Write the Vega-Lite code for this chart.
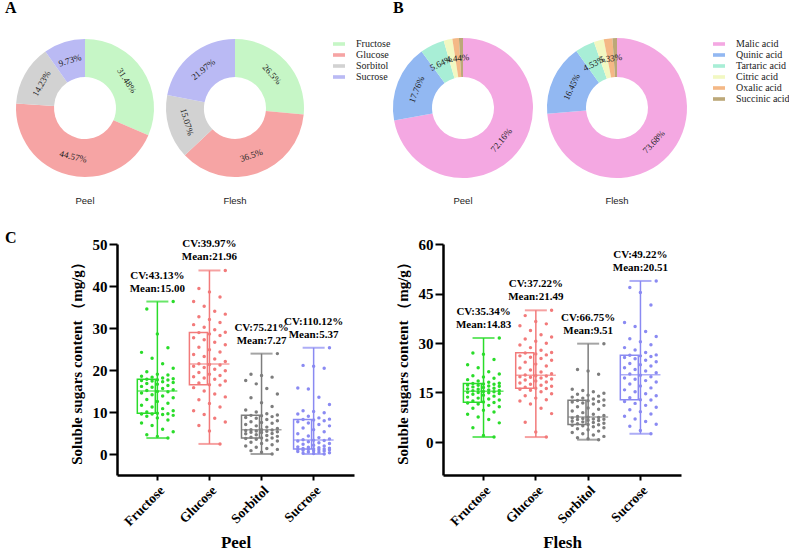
{
"$schema":"https://vega.github.io/schema/vega-lite/v6.json",
"padding":{"left":5,"top":0,"right":0,"bottom":0},
"config":{"view":{"stroke":null},"font":"Liberation Serif",
 "axis":{"domain":true,"zindex":1,"domainColor":"#000000","domainOpacity":1,"domainWidth":2.5,"tickColor":"black","tickWidth":2,"tickSize":8,"labelColor":"black","titleColor":"black","labelFont":"Liberation Serif","labelFontWeight":"bold","titleFont":"Liberation Serif","titleFontWeight":"bold","grid":false},
 "axisX":{"labelAngle":-45,"labelFontSize":13.5,"titleFontSize":17,"titlePadding":6,"labelPadding":3,"tickSize":5},
 "axisY":{"labelFontSize":15,"titleFontSize":15,"titlePadding":8,"labelPadding":2},
 "legend":{"labelFont":"Liberation Serif","labelFontSize":10,"labelColor":"#222","symbolType":"M-1,-0.3H1V0.3H-1Z","symbolSize":144,"symbolStrokeWidth":0,"rowPadding":0,"labelOffset":11,"padding":0}
},
"datasets":{
 "sugar":[
  {"part":"Peel","k":"Fructose","pct":31.48,"lab":"31.48%"},
  {"part":"Peel","k":"Glucose","pct":44.57,"lab":"44.57%"},
  {"part":"Peel","k":"Sorbitol","pct":14.23,"lab":"14.23%"},
  {"part":"Peel","k":"Sucrose","pct":9.73,"lab":"9.73%"},
  {"part":"Flesh","k":"Fructose","pct":26.5,"lab":"26.5%"},
  {"part":"Flesh","k":"Glucose","pct":36.46,"lab":"36.5%"},
  {"part":"Flesh","k":"Sorbitol","pct":15.07,"lab":"15.07%"},
  {"part":"Flesh","k":"Sucrose","pct":21.97,"lab":"21.97%"}
 ],
 "acid":[
  {"part":"Peel","k":"Malic acid","pct":72.16,"lab":"72.16%"},
  {"part":"Peel","k":"Quinic acid","pct":17.76,"lab":"17.76%"},
  {"part":"Peel","k":"Tartaric acid","pct":5.64,"lab":"5.64%"},
  {"part":"Peel","k":"Citric acid","pct":2.0,"lab":""},
  {"part":"Peel","k":"Oxalic acid","pct":1.5,"lab":"4.44%"},
  {"part":"Peel","k":"Succinic acid","pct":0.94,"lab":""},
  {"part":"Flesh","k":"Malic acid","pct":73.68,"lab":"73.68%"},
  {"part":"Flesh","k":"Quinic acid","pct":16.45,"lab":"16.45%"},
  {"part":"Flesh","k":"Tartaric acid","pct":4.53,"lab":"4.53%"},
  {"part":"Flesh","k":"Citric acid","pct":2.3,"lab":""},
  {"part":"Flesh","k":"Oxalic acid","pct":2.0,"lab":"5.33%"},
  {"part":"Flesh","k":"Succinic acid","pct":1.04,"lab":""}
 ],
 "peelStats":[
  {"s":"Fructose","lab":"CV:43.13%\nMean:15.00"},
  {"s":"Glucose","lab":"CV:39.97%\nMean:21.96"},
  {"s":"Sorbitol","lab":"CV:75.21%\nMean:7.27"},
  {"s":"Sucrose","lab":"CV:110.12%\nMean:5.37"}
 ],
 "fleshStats":[
  {"s":"Fructose","lab":"CV:35.34%\nMean:14.83"},
  {"s":"Glucose","lab":"CV:37.22%\nMean:21.49"},
  {"s":"Sorbitol","lab":"CV:66.75%\nMean:9.51"},
  {"s":"Sucrose","lab":"CV:49.22%\nMean:20.51"}
 ],
 "peel":[
  {"s":"Fructose","v":3.8},{"s":"Fructose","v":4.2},{"s":"Fructose","v":4.6},{"s":"Fructose","v":5.3},{"s":"Fructose","v":5.9},{"s":"Fructose","v":6.8},{"s":"Fructose","v":7.4},{"s":"Fructose","v":8.1},{"s":"Fructose","v":8.6},{"s":"Fructose","v":9.0},{"s":"Fructose","v":9.2},{"s":"Fructose","v":9.4},{"s":"Fructose","v":9.5},{"s":"Fructose","v":9.5},{"s":"Fructose","v":9.6},
  {"s":"Fructose","v":9.7},{"s":"Fructose","v":10.0},{"s":"Fructose","v":10.3},{"s":"Fructose","v":10.8},{"s":"Fructose","v":11.2},{"s":"Fructose","v":11.6},{"s":"Fructose","v":12.1},{"s":"Fructose","v":12.5},{"s":"Fructose","v":13.0},{"s":"Fructose","v":13.4},{"s":"Fructose","v":13.8},{"s":"Fructose","v":14.1},{"s":"Fructose","v":14.5},{"s":"Fructose","v":14.8},{"s":"Fructose","v":14.9},
  {"s":"Fructose","v":15.1},{"s":"Fructose","v":15.3},{"s":"Fructose","v":15.6},{"s":"Fructose","v":15.9},{"s":"Fructose","v":16.1},{"s":"Fructose","v":16.3},{"s":"Fructose","v":16.6},{"s":"Fructose","v":16.8},{"s":"Fructose","v":17.0},{"s":"Fructose","v":17.2},{"s":"Fructose","v":17.4},{"s":"Fructose","v":17.5},{"s":"Fructose","v":17.6},{"s":"Fructose","v":17.7},{"s":"Fructose","v":17.8},
  {"s":"Fructose","v":17.9},{"s":"Fructose","v":18.1},{"s":"Fructose","v":18.3},{"s":"Fructose","v":18.5},{"s":"Fructose","v":18.8},{"s":"Fructose","v":19.0},{"s":"Fructose","v":19.6},{"s":"Fructose","v":20.4},{"s":"Fructose","v":21.5},{"s":"Fructose","v":22.8},{"s":"Fructose","v":24.2},{"s":"Fructose","v":25.3},{"s":"Fructose","v":28.6},{"s":"Fructose","v":34.5},{"s":"Fructose","v":36.3},
  {"s":"Glucose","v":2.4},{"s":"Glucose","v":5.5},{"s":"Glucose","v":6.8},{"s":"Glucose","v":7.6},{"s":"Glucose","v":8.5},{"s":"Glucose","v":9.4},{"s":"Glucose","v":10.3},{"s":"Glucose","v":11.2},{"s":"Glucose","v":12.0},{"s":"Glucose","v":12.9},{"s":"Glucose","v":13.6},{"s":"Glucose","v":14.3},{"s":"Glucose","v":15.0},{"s":"Glucose","v":15.8},{"s":"Glucose","v":16.4},
  {"s":"Glucose","v":16.5},{"s":"Glucose","v":16.9},{"s":"Glucose","v":17.4},{"s":"Glucose","v":17.8},{"s":"Glucose","v":18.1},{"s":"Glucose","v":18.4},{"s":"Glucose","v":18.7},{"s":"Glucose","v":19.0},{"s":"Glucose","v":19.4},{"s":"Glucose","v":19.8},{"s":"Glucose","v":20.2},{"s":"Glucose","v":20.6},{"s":"Glucose","v":20.9},{"s":"Glucose","v":21.2},{"s":"Glucose","v":21.3},
  {"s":"Glucose","v":21.5},{"s":"Glucose","v":22.0},{"s":"Glucose","v":22.6},{"s":"Glucose","v":23.2},{"s":"Glucose","v":23.7},{"s":"Glucose","v":24.3},{"s":"Glucose","v":24.8},{"s":"Glucose","v":25.4},{"s":"Glucose","v":26.0},{"s":"Glucose","v":26.6},{"s":"Glucose","v":27.2},{"s":"Glucose","v":27.7},{"s":"Glucose","v":28.2},{"s":"Glucose","v":28.6},{"s":"Glucose","v":28.9},
  {"s":"Glucose","v":29.0},{"s":"Glucose","v":29.6},{"s":"Glucose","v":30.2},{"s":"Glucose","v":30.8},{"s":"Glucose","v":31.3},{"s":"Glucose","v":32.0},{"s":"Glucose","v":32.7},{"s":"Glucose","v":33.3},{"s":"Glucose","v":34.0},{"s":"Glucose","v":35.2},{"s":"Glucose","v":36.3},{"s":"Glucose","v":37.4},{"s":"Glucose","v":38.6},{"s":"Glucose","v":39.4},{"s":"Glucose","v":43.7},
  {"s":"Sorbitol","v":0.0},{"s":"Sorbitol","v":0.4},{"s":"Sorbitol","v":0.8},{"s":"Sorbitol","v":1.1},{"s":"Sorbitol","v":1.3},{"s":"Sorbitol","v":1.6},{"s":"Sorbitol","v":1.9},{"s":"Sorbitol","v":2.2},{"s":"Sorbitol","v":2.5},{"s":"Sorbitol","v":2.8},{"s":"Sorbitol","v":3.1},{"s":"Sorbitol","v":3.3},{"s":"Sorbitol","v":3.5},{"s":"Sorbitol","v":3.7},{"s":"Sorbitol","v":3.8},
  {"s":"Sorbitol","v":3.8},{"s":"Sorbitol","v":4.0},{"s":"Sorbitol","v":4.2},{"s":"Sorbitol","v":4.4},{"s":"Sorbitol","v":4.6},{"s":"Sorbitol","v":4.8},{"s":"Sorbitol","v":4.9},{"s":"Sorbitol","v":5.1},{"s":"Sorbitol","v":5.2},{"s":"Sorbitol","v":5.3},{"s":"Sorbitol","v":5.4},{"s":"Sorbitol","v":5.5},{"s":"Sorbitol","v":5.6},{"s":"Sorbitol","v":5.7},{"s":"Sorbitol","v":5.8},
  {"s":"Sorbitol","v":5.8},{"s":"Sorbitol","v":6.1},{"s":"Sorbitol","v":6.4},{"s":"Sorbitol","v":6.7},{"s":"Sorbitol","v":7.0},{"s":"Sorbitol","v":7.3},{"s":"Sorbitol","v":7.5},{"s":"Sorbitol","v":7.7},{"s":"Sorbitol","v":7.9},{"s":"Sorbitol","v":8.2},{"s":"Sorbitol","v":8.5},{"s":"Sorbitol","v":8.7},{"s":"Sorbitol","v":8.9},{"s":"Sorbitol","v":9.1},{"s":"Sorbitol","v":9.2},
  {"s":"Sorbitol","v":9.3},{"s":"Sorbitol","v":9.6},{"s":"Sorbitol","v":10.0},{"s":"Sorbitol","v":10.5},{"s":"Sorbitol","v":11.3},{"s":"Sorbitol","v":12.2},{"s":"Sorbitol","v":13.4},{"s":"Sorbitol","v":14.3},{"s":"Sorbitol","v":15.6},{"s":"Sorbitol","v":16.7},{"s":"Sorbitol","v":17.5},{"s":"Sorbitol","v":18.3},{"s":"Sorbitol","v":18.7},{"s":"Sorbitol","v":19.0},{"s":"Sorbitol","v":23.9},
  {"s":"Sucrose","v":0.0},{"s":"Sucrose","v":0.1},{"s":"Sucrose","v":0.2},{"s":"Sucrose","v":0.3},{"s":"Sucrose","v":0.4},{"s":"Sucrose","v":0.5},{"s":"Sucrose","v":0.6},{"s":"Sucrose","v":0.7},{"s":"Sucrose","v":0.8},{"s":"Sucrose","v":0.9},{"s":"Sucrose","v":1.0},{"s":"Sucrose","v":1.0},{"s":"Sucrose","v":1.1},{"s":"Sucrose","v":1.1},{"s":"Sucrose","v":1.2},
  {"s":"Sucrose","v":1.2},{"s":"Sucrose","v":1.3},{"s":"Sucrose","v":1.4},{"s":"Sucrose","v":1.5},{"s":"Sucrose","v":1.6},{"s":"Sucrose","v":1.7},{"s":"Sucrose","v":1.9},{"s":"Sucrose","v":2.1},{"s":"Sucrose","v":2.3},{"s":"Sucrose","v":2.5},{"s":"Sucrose","v":2.7},{"s":"Sucrose","v":2.9},{"s":"Sucrose","v":3.1},{"s":"Sucrose","v":3.2},{"s":"Sucrose","v":3.3},
  {"s":"Sucrose","v":3.4},{"s":"Sucrose","v":3.6},{"s":"Sucrose","v":3.9},{"s":"Sucrose","v":4.3},{"s":"Sucrose","v":4.8},{"s":"Sucrose","v":5.3},{"s":"Sucrose","v":5.8},{"s":"Sucrose","v":6.2},{"s":"Sucrose","v":6.7},{"s":"Sucrose","v":7.0},{"s":"Sucrose","v":7.4},{"s":"Sucrose","v":7.7},{"s":"Sucrose","v":7.9},{"s":"Sucrose","v":8.1},{"s":"Sucrose","v":8.2},
  {"s":"Sucrose","v":8.3},{"s":"Sucrose","v":8.6},{"s":"Sucrose","v":9.0},{"s":"Sucrose","v":9.5},{"s":"Sucrose","v":9.8},{"s":"Sucrose","v":10.1},{"s":"Sucrose","v":10.3},{"s":"Sucrose","v":11.8},{"s":"Sucrose","v":13.5},{"s":"Sucrose","v":15.5},{"s":"Sucrose","v":15.7},{"s":"Sucrose","v":20.4},{"s":"Sucrose","v":20.9},{"s":"Sucrose","v":21.1},{"s":"Sucrose","v":25.3}
 ],
 "flesh":[
  {"s":"Fructose","v":1.5},{"s":"Fructose","v":2.0},{"s":"Fructose","v":4.3},{"s":"Fructose","v":5.8},{"s":"Fructose","v":6.8},{"s":"Fructose","v":7.6},{"s":"Fructose","v":8.4},{"s":"Fructose","v":9.1},{"s":"Fructose","v":9.6},{"s":"Fructose","v":10.2},{"s":"Fructose","v":10.7},{"s":"Fructose","v":11.1},{"s":"Fructose","v":11.5},{"s":"Fructose","v":11.8},{"s":"Fructose","v":12.0},
  {"s":"Fructose","v":12.1},{"s":"Fructose","v":12.4},{"s":"Fructose","v":12.7},{"s":"Fructose","v":13.0},{"s":"Fructose","v":13.3},{"s":"Fructose","v":13.6},{"s":"Fructose","v":13.9},{"s":"Fructose","v":14.2},{"s":"Fructose","v":14.5},{"s":"Fructose","v":14.7},{"s":"Fructose","v":14.9},{"s":"Fructose","v":15.0},{"s":"Fructose","v":15.1},{"s":"Fructose","v":15.2},{"s":"Fructose","v":15.3},
  {"s":"Fructose","v":15.5},{"s":"Fructose","v":15.6},{"s":"Fructose","v":15.8},{"s":"Fructose","v":16.0},{"s":"Fructose","v":16.1},{"s":"Fructose","v":16.3},{"s":"Fructose","v":16.5},{"s":"Fructose","v":16.7},{"s":"Fructose","v":16.9},{"s":"Fructose","v":17.0},{"s":"Fructose","v":17.2},{"s":"Fructose","v":17.3},{"s":"Fructose","v":17.5},{"s":"Fructose","v":17.6},{"s":"Fructose","v":17.7},
  {"s":"Fructose","v":17.8},{"s":"Fructose","v":18.1},{"s":"Fructose","v":18.5},{"s":"Fructose","v":18.9},{"s":"Fructose","v":19.3},{"s":"Fructose","v":19.7},{"s":"Fructose","v":20.1},{"s":"Fructose","v":20.6},{"s":"Fructose","v":21.3},{"s":"Fructose","v":22.5},{"s":"Fructose","v":23.4},{"s":"Fructose","v":25.0},{"s":"Fructose","v":26.6},{"s":"Fructose","v":27.0},{"s":"Fructose","v":31.5},
  {"s":"Glucose","v":1.5},{"s":"Glucose","v":3.0},{"s":"Glucose","v":6.0},{"s":"Glucose","v":8.6},{"s":"Glucose","v":10.2},{"s":"Glucose","v":11.5},{"s":"Glucose","v":12.4},{"s":"Glucose","v":12.8},{"s":"Glucose","v":13.3},{"s":"Glucose","v":14.0},{"s":"Glucose","v":14.6},{"s":"Glucose","v":15.2},{"s":"Glucose","v":15.7},{"s":"Glucose","v":16.0},{"s":"Glucose","v":16.2},
  {"s":"Glucose","v":16.3},{"s":"Glucose","v":16.6},{"s":"Glucose","v":16.9},{"s":"Glucose","v":17.2},{"s":"Glucose","v":17.5},{"s":"Glucose","v":17.9},{"s":"Glucose","v":18.2},{"s":"Glucose","v":18.5},{"s":"Glucose","v":18.8},{"s":"Glucose","v":19.1},{"s":"Glucose","v":19.4},{"s":"Glucose","v":19.6},{"s":"Glucose","v":19.8},{"s":"Glucose","v":20.0},{"s":"Glucose","v":20.1},
  {"s":"Glucose","v":20.3},{"s":"Glucose","v":20.7},{"s":"Glucose","v":21.2},{"s":"Glucose","v":21.8},{"s":"Glucose","v":22.4},{"s":"Glucose","v":23.0},{"s":"Glucose","v":23.6},{"s":"Glucose","v":24.2},{"s":"Glucose","v":24.8},{"s":"Glucose","v":25.3},{"s":"Glucose","v":25.7},{"s":"Glucose","v":26.1},{"s":"Glucose","v":26.4},{"s":"Glucose","v":26.7},{"s":"Glucose","v":27.0},
  {"s":"Glucose","v":27.1},{"s":"Glucose","v":27.8},{"s":"Glucose","v":28.6},{"s":"Glucose","v":29.4},{"s":"Glucose","v":29.9},{"s":"Glucose","v":30.5},{"s":"Glucose","v":31.2},{"s":"Glucose","v":31.8},{"s":"Glucose","v":32.5},{"s":"Glucose","v":33.8},{"s":"Glucose","v":35.2},{"s":"Glucose","v":35.8},{"s":"Glucose","v":36.5},{"s":"Glucose","v":38.3},{"s":"Glucose","v":39.9},
  {"s":"Sorbitol","v":0.7},{"s":"Sorbitol","v":1.0},{"s":"Sorbitol","v":1.3},{"s":"Sorbitol","v":1.7},{"s":"Sorbitol","v":2.1},{"s":"Sorbitol","v":2.5},{"s":"Sorbitol","v":2.9},{"s":"Sorbitol","v":3.3},{"s":"Sorbitol","v":3.7},{"s":"Sorbitol","v":4.0},{"s":"Sorbitol","v":4.3},{"s":"Sorbitol","v":4.6},{"s":"Sorbitol","v":4.9},{"s":"Sorbitol","v":5.1},{"s":"Sorbitol","v":5.2},
  {"s":"Sorbitol","v":5.3},{"s":"Sorbitol","v":5.5},{"s":"Sorbitol","v":5.7},{"s":"Sorbitol","v":5.9},{"s":"Sorbitol","v":6.1},{"s":"Sorbitol","v":6.3},{"s":"Sorbitol","v":6.5},{"s":"Sorbitol","v":6.6},{"s":"Sorbitol","v":6.8},{"s":"Sorbitol","v":6.9},{"s":"Sorbitol","v":7.0},{"s":"Sorbitol","v":7.1},{"s":"Sorbitol","v":7.3},{"s":"Sorbitol","v":7.4},{"s":"Sorbitol","v":7.5},
  {"s":"Sorbitol","v":7.7},{"s":"Sorbitol","v":8.0},{"s":"Sorbitol","v":8.4},{"s":"Sorbitol","v":8.9},{"s":"Sorbitol","v":9.4},{"s":"Sorbitol","v":9.9},{"s":"Sorbitol","v":10.3},{"s":"Sorbitol","v":10.7},{"s":"Sorbitol","v":11.1},{"s":"Sorbitol","v":11.5},{"s":"Sorbitol","v":11.8},{"s":"Sorbitol","v":12.1},{"s":"Sorbitol","v":12.3},{"s":"Sorbitol","v":12.5},{"s":"Sorbitol","v":12.6},
  {"s":"Sorbitol","v":12.7},{"s":"Sorbitol","v":13.0},{"s":"Sorbitol","v":13.3},{"s":"Sorbitol","v":13.6},{"s":"Sorbitol","v":13.9},{"s":"Sorbitol","v":14.2},{"s":"Sorbitol","v":14.5},{"s":"Sorbitol","v":14.8},{"s":"Sorbitol","v":15.2},{"s":"Sorbitol","v":15.6},{"s":"Sorbitol","v":16.0},{"s":"Sorbitol","v":20.5},{"s":"Sorbitol","v":21.5},{"s":"Sorbitol","v":22.0},{"s":"Sorbitol","v":29.8},
  {"s":"Sucrose","v":2.5},{"s":"Sucrose","v":3.5},{"s":"Sucrose","v":4.8},{"s":"Sucrose","v":5.4},{"s":"Sucrose","v":6.2},{"s":"Sucrose","v":7.0},{"s":"Sucrose","v":7.8},{"s":"Sucrose","v":8.5},{"s":"Sucrose","v":9.2},{"s":"Sucrose","v":9.8},{"s":"Sucrose","v":10.5},{"s":"Sucrose","v":11.1},{"s":"Sucrose","v":11.7},{"s":"Sucrose","v":12.3},{"s":"Sucrose","v":12.7},
  {"s":"Sucrose","v":12.8},{"s":"Sucrose","v":13.4},{"s":"Sucrose","v":14.0},{"s":"Sucrose","v":14.6},{"s":"Sucrose","v":15.2},{"s":"Sucrose","v":15.8},{"s":"Sucrose","v":16.4},{"s":"Sucrose","v":17.0},{"s":"Sucrose","v":17.6},{"s":"Sucrose","v":18.2},{"s":"Sucrose","v":18.6},{"s":"Sucrose","v":19.0},{"s":"Sucrose","v":19.4},{"s":"Sucrose","v":19.8},{"s":"Sucrose","v":20.2},
  {"s":"Sucrose","v":20.6},{"s":"Sucrose","v":21.0},{"s":"Sucrose","v":21.5},{"s":"Sucrose","v":22.0},{"s":"Sucrose","v":22.5},{"s":"Sucrose","v":23.0},{"s":"Sucrose","v":23.4},{"s":"Sucrose","v":23.8},{"s":"Sucrose","v":24.3},{"s":"Sucrose","v":24.8},{"s":"Sucrose","v":25.2},{"s":"Sucrose","v":25.6},{"s":"Sucrose","v":25.9},{"s":"Sucrose","v":26.1},{"s":"Sucrose","v":26.3},
  {"s":"Sucrose","v":26.4},{"s":"Sucrose","v":27.1},{"s":"Sucrose","v":27.9},{"s":"Sucrose","v":28.6},{"s":"Sucrose","v":29.5},{"s":"Sucrose","v":30.4},{"s":"Sucrose","v":31.3},{"s":"Sucrose","v":32.0},{"s":"Sucrose","v":33.5},{"s":"Sucrose","v":35.0},{"s":"Sucrose","v":36.2},{"s":"Sucrose","v":41.5},{"s":"Sucrose","v":45.3},{"s":"Sucrose","v":46.8},{"s":"Sucrose","v":48.8}
 ]
},
"resolve":{"scale":{"color":"independent"}},
"spacing":24,
"vconcat":[
 {"hconcat":[
  {"title":{"text":"A","anchor":"start","font":"Liberation Serif","fontSize":16,"fontWeight":"bold","offset":22,"color":"black"},
   "spacing":0,
   "hconcat":[
    {"width":160,"height":140,
     "title":{"text":"Peel","orient":"bottom","font":"Liberation Sans","fontSize":9.5,"fontWeight":"normal","offset":18,"color":"#222"},
     "data":{"name":"sugar"},
     "transform":[{"filter":"datum.part === 'Peel'"},{"calculate":"indexof(['Fructose','Glucose','Sorbitol','Sucrose'], datum.k)","as":"idx"}],
     "layer":[
      {"mark":{"type":"arc","innerRadius":31,"outerRadius":69},
       "encoding":{"theta":{"field":"pct","type":"quantitative","stack":true},"order":{"field":"idx","type":"quantitative"},
        "color":{"field":"k","type":"nominal","scale":{"domain":["Fructose","Glucose","Sorbitol","Sucrose"],"range":["#c6f6c6","#f6a4a4","#d2d2d2","#babaf4"]},"legend":{"title":null,"offset":28,"labelFont":"Liberation Serif"}}}},
      {"transform":[{"joinaggregate":[{"op":"sum","field":"pct","as":"tot"}]},{"window":[{"op":"sum","field":"pct","as":"cum"}],"sort":[{"field":"idx"}],"frame":[null,0]},{"calculate":"(datum.cum - datum.pct/2)/datum.tot*360","as":"mid"},{"calculate":"datum.mid > 90 && datum.mid < 270 ? datum.mid - 180 : datum.mid","as":"ang"}],
       "mark":{"type":"text","radius":50,"fontSize":9,"font":"Liberation Serif","color":"#222"},
       "encoding":{"theta":{"field":"pct","type":"quantitative","stack":true},"order":{"field":"idx","type":"quantitative"},"text":{"field":"lab","type":"nominal"},"angle":{"field":"ang","type":"quantitative","scale":null}}}
     ]},
    {"width":140,"height":140,
     "title":{"text":"Flesh","orient":"bottom","font":"Liberation Sans","fontSize":9.5,"fontWeight":"normal","offset":18,"color":"#222"},
     "data":{"name":"sugar"},
     "transform":[{"filter":"datum.part === 'Flesh'"},{"calculate":"indexof(['Fructose','Glucose','Sorbitol','Sucrose'], datum.k)","as":"idx"}],
     "layer":[
      {"mark":{"type":"arc","innerRadius":31,"outerRadius":69},
       "encoding":{"theta":{"field":"pct","type":"quantitative","stack":true},"order":{"field":"idx","type":"quantitative"},
        "color":{"field":"k","type":"nominal","scale":{"domain":["Fructose","Glucose","Sorbitol","Sucrose"],"range":["#c6f6c6","#f6a4a4","#d2d2d2","#babaf4"]},"legend":{"title":null,"offset":28,"labelFont":"Liberation Serif"}}}},
      {"transform":[{"joinaggregate":[{"op":"sum","field":"pct","as":"tot"}]},{"window":[{"op":"sum","field":"pct","as":"cum"}],"sort":[{"field":"idx"}],"frame":[null,0]},{"calculate":"(datum.cum - datum.pct/2)/datum.tot*360","as":"mid"},{"calculate":"datum.mid > 90 && datum.mid < 270 ? datum.mid - 180 : datum.mid","as":"ang"}],
       "mark":{"type":"text","radius":50,"fontSize":9,"font":"Liberation Serif","color":"#222"},
       "encoding":{"theta":{"field":"pct","type":"quantitative","stack":true},"order":{"field":"idx","type":"quantitative"},"text":{"field":"lab","type":"nominal"},"angle":{"field":"ang","type":"quantitative","scale":null}}}
     ]}
   ]},
  {"title":{"text":"B","anchor":"start","font":"Liberation Serif","fontSize":16,"fontWeight":"bold","offset":22,"color":"black"},
   "spacing":14,
   "hconcat":[
    {"width":134,"height":140,
     "title":{"text":"Peel","orient":"bottom","font":"Liberation Sans","fontSize":9.5,"fontWeight":"normal","offset":18,"color":"#222"},
     "data":{"name":"acid"},
     "transform":[{"filter":"datum.part === 'Peel'"},{"calculate":"indexof(['Malic acid','Quinic acid','Tartaric acid','Citric acid','Oxalic acid','Succinic acid'], datum.k)","as":"idx"}],
     "layer":[
      {"mark":{"type":"arc","innerRadius":31,"outerRadius":70},
       "encoding":{"theta":{"field":"pct","type":"quantitative","stack":true},"order":{"field":"idx","type":"quantitative"},
        "color":{"field":"k","type":"nominal","scale":{"domain":["Malic acid","Quinic acid","Tartaric acid","Citric acid","Oxalic acid","Succinic acid"],"range":["#f4a8e2","#92b8f2","#a8eed6","#f2f8c2","#f4b886","#bca878"]},"legend":{"title":null,"offset":26,"labelFont":"Liberation Serif"}}}},
      {"transform":[{"joinaggregate":[{"op":"sum","field":"pct","as":"tot"}]},{"window":[{"op":"sum","field":"pct","as":"cum"}],"sort":[{"field":"idx"}],"frame":[null,0]},{"calculate":"(datum.cum - datum.pct/2)/datum.tot*360","as":"mid"},{"calculate":"datum.mid > 90 && datum.mid < 270 ? datum.mid - 180 : datum.mid","as":"ang"}],
       "mark":{"type":"text","radius":50,"fontSize":9,"font":"Liberation Serif","color":"#222"},
       "encoding":{"theta":{"field":"pct","type":"quantitative","stack":true},"order":{"field":"idx","type":"quantitative"},"text":{"field":"lab","type":"nominal"},"angle":{"field":"ang","type":"quantitative","scale":null}}}
     ]},
    {"width":140,"height":140,
     "title":{"text":"Flesh","orient":"bottom","font":"Liberation Sans","fontSize":9.5,"fontWeight":"normal","offset":18,"color":"#222"},
     "data":{"name":"acid"},
     "transform":[{"filter":"datum.part === 'Flesh'"},{"calculate":"indexof(['Malic acid','Quinic acid','Tartaric acid','Citric acid','Oxalic acid','Succinic acid'], datum.k)","as":"idx"}],
     "layer":[
      {"mark":{"type":"arc","innerRadius":31,"outerRadius":70},
       "encoding":{"theta":{"field":"pct","type":"quantitative","stack":true},"order":{"field":"idx","type":"quantitative"},
        "color":{"field":"k","type":"nominal","scale":{"domain":["Malic acid","Quinic acid","Tartaric acid","Citric acid","Oxalic acid","Succinic acid"],"range":["#f4a8e2","#92b8f2","#a8eed6","#f2f8c2","#f4b886","#bca878"]},"legend":{"title":null,"offset":26,"labelFont":"Liberation Serif"}}}},
      {"transform":[{"joinaggregate":[{"op":"sum","field":"pct","as":"tot"}]},{"window":[{"op":"sum","field":"pct","as":"cum"}],"sort":[{"field":"idx"}],"frame":[null,0]},{"calculate":"(datum.cum - datum.pct/2)/datum.tot*360","as":"mid"},{"calculate":"datum.mid > 90 && datum.mid < 270 ? datum.mid - 180 : datum.mid","as":"ang"}],
       "mark":{"type":"text","radius":50,"fontSize":9,"font":"Liberation Serif","color":"#222"},
       "encoding":{"theta":{"field":"pct","type":"quantitative","stack":true},"order":{"field":"idx","type":"quantitative"},"text":{"field":"lab","type":"nominal"},"angle":{"field":"ang","type":"quantitative","scale":null}}}
     ]}
   ]}
 ],
 "spacing":2,
 "resolve":{"scale":{"color":"independent"}}},
 {"spacing":41,
  "hconcat":[
   {"width":23,"height":231,
    "title":{"text":"C","anchor":"start","offset":-2,"font":"Liberation Serif","fontSize":16,"fontWeight":"bold","color":"black"},
    "data":{"values":[]},
    "mark":"point"},
   {"width":237,"height":231,
    "data":{"name":"peel"},
    "layer":[
     {"transform":[{"aggregate":[{"op":"min","field":"v","as":"lo"},{"op":"q1","field":"v","as":"q1"},{"op":"median","field":"v","as":"md"},{"op":"q3","field":"v","as":"q3"},{"op":"max","field":"v","as":"hi"}],"groupby":["s"]}],
      "layer":[
       {"mark":{"type":"rule","strokeWidth":1.5},
        "encoding":{"x":{"field":"s","type":"nominal","title":"Peel","sort":["Fructose","Glucose","Sorbitol","Sucrose"],"scale":{"paddingInner":0.23,"paddingOuter":0.39}},
         "y":{"field":"lo","type":"quantitative","title":"Soluble sugars content （mg/g）","scale":{"domain":[-5,50],"nice":false,"zero":false},"axis":{"values":[0,10,20,30,40,50]}},
         "y2":{"field":"hi"},
         "color":{"field":"s","type":"nominal","scale":{"domain":["Fructose","Glucose","Sorbitol","Sucrose"],"range":["#2adc2a","#f27a7a","#7d7d7d","#8a8af2"]},"legend":null}}},
       {"mark":{"type":"bar","filled":false,"strokeWidth":1.5},
        "encoding":{"x":{"field":"s","type":"nominal","title":"Peel","sort":["Fructose","Glucose","Sorbitol","Sucrose"]},
         "y":{"field":"q1","type":"quantitative","title":"Soluble sugars content （mg/g）"},"y2":{"field":"q3"},
         "color":{"field":"s","type":"nominal","legend":null}}},
       {"mark":{"type":"tick","size":40,"thickness":1.5},
        "encoding":{"x":{"field":"s","type":"nominal","title":"Peel","sort":["Fructose","Glucose","Sorbitol","Sucrose"]},
         "y":{"field":"md","type":"quantitative","title":"Soluble sugars content （mg/g）"},
         "color":{"field":"s","type":"nominal","legend":null}}},
       {"mark":{"type":"tick","size":22,"thickness":2},
        "encoding":{"x":{"field":"s","type":"nominal","title":"Peel","sort":["Fructose","Glucose","Sorbitol","Sucrose"]},
         "y":{"field":"lo","type":"quantitative","title":"Soluble sugars content （mg/g）"},
         "color":{"field":"s","type":"nominal","legend":null}}},
       {"mark":{"type":"tick","size":22,"thickness":2},
        "encoding":{"x":{"field":"s","type":"nominal","title":"Peel","sort":["Fructose","Glucose","Sorbitol","Sucrose"]},
         "y":{"field":"hi","type":"quantitative","title":"Soluble sugars content （mg/g）"},
         "color":{"field":"s","type":"nominal","legend":null}}}
      ]},
     {"transform":[{"window":[{"op":"row_number","as":"r"}],"groupby":["s"],"sort":[{"field":"v"}]},{"calculate":"((datum.r*5)%7)-3","as":"j"}],
      "mark":{"type":"circle","size":12,"opacity":1},
      "encoding":{"x":{"field":"s","type":"nominal","title":"Peel","sort":["Fructose","Glucose","Sorbitol","Sucrose"]},
       "xOffset":{"field":"j","type":"quantitative","scale":{"domain":[-3.8,3.8]}},
       "y":{"field":"v","type":"quantitative","title":"Soluble sugars content （mg/g）"},
       "color":{"field":"s","type":"nominal","legend":null}}},
     {"transform":[{"aggregate":[{"op":"max","field":"v","as":"hi"}],"groupby":["s"]},{"lookup":"s","from":{"data":{"name":"peelStats"},"key":"s","fields":["lab"]}}],
      "mark":{"type":"text","lineBreak":"\n","baseline":"bottom","dy":-21,"fontSize":11,"fontWeight":"bold","font":"Liberation Serif","lineHeight":13,"color":"black"},
      "encoding":{"x":{"field":"s","type":"nominal","title":"Peel","sort":["Fructose","Glucose","Sorbitol","Sucrose"]},
       "y":{"field":"hi","type":"quantitative","title":"Soluble sugars content （mg/g）"},
       "text":{"field":"lab","type":"nominal"}}}
    ]},
   {"width":238,"height":231,
    "data":{"name":"flesh"},
    "layer":[
     {"transform":[{"aggregate":[{"op":"min","field":"v","as":"lo"},{"op":"q1","field":"v","as":"q1"},{"op":"median","field":"v","as":"md"},{"op":"q3","field":"v","as":"q3"},{"op":"max","field":"v","as":"hi"}],"groupby":["s"]}],
      "layer":[
       {"mark":{"type":"rule","strokeWidth":1.5},
        "encoding":{"x":{"field":"s","type":"nominal","title":"Flesh","sort":["Fructose","Glucose","Sorbitol","Sucrose"],"scale":{"paddingInner":0.23,"paddingOuter":0.39}},
         "y":{"field":"lo","type":"quantitative","title":"Soluble sugars content （mg/g）","scale":{"domain":[-10,60],"nice":false,"zero":false},"axis":{"values":[0,15,30,45,60]}},
         "y2":{"field":"hi"},
         "color":{"field":"s","type":"nominal","scale":{"domain":["Fructose","Glucose","Sorbitol","Sucrose"],"range":["#2adc2a","#f27a7a","#7d7d7d","#8a8af2"]},"legend":null}}},
       {"mark":{"type":"bar","filled":false,"strokeWidth":1.5},
        "encoding":{"x":{"field":"s","type":"nominal","title":"Flesh","sort":["Fructose","Glucose","Sorbitol","Sucrose"]},
         "y":{"field":"q1","type":"quantitative","title":"Soluble sugars content （mg/g）"},"y2":{"field":"q3"},
         "color":{"field":"s","type":"nominal","legend":null}}},
       {"mark":{"type":"tick","size":40,"thickness":1.5},
        "encoding":{"x":{"field":"s","type":"nominal","title":"Flesh","sort":["Fructose","Glucose","Sorbitol","Sucrose"]},
         "y":{"field":"md","type":"quantitative","title":"Soluble sugars content （mg/g）"},
         "color":{"field":"s","type":"nominal","legend":null}}},
       {"mark":{"type":"tick","size":22,"thickness":2},
        "encoding":{"x":{"field":"s","type":"nominal","title":"Flesh","sort":["Fructose","Glucose","Sorbitol","Sucrose"]},
         "y":{"field":"lo","type":"quantitative","title":"Soluble sugars content （mg/g）"},
         "color":{"field":"s","type":"nominal","legend":null}}},
       {"mark":{"type":"tick","size":22,"thickness":2},
        "encoding":{"x":{"field":"s","type":"nominal","title":"Flesh","sort":["Fructose","Glucose","Sorbitol","Sucrose"]},
         "y":{"field":"hi","type":"quantitative","title":"Soluble sugars content （mg/g）"},
         "color":{"field":"s","type":"nominal","legend":null}}}
      ]},
     {"transform":[{"window":[{"op":"row_number","as":"r"}],"groupby":["s"],"sort":[{"field":"v"}]},{"calculate":"((datum.r*5)%7)-3","as":"j"}],
      "mark":{"type":"circle","size":12,"opacity":1},
      "encoding":{"x":{"field":"s","type":"nominal","title":"Flesh","sort":["Fructose","Glucose","Sorbitol","Sucrose"]},
       "xOffset":{"field":"j","type":"quantitative","scale":{"domain":[-3.8,3.8]}},
       "y":{"field":"v","type":"quantitative","title":"Soluble sugars content （mg/g）"},
       "color":{"field":"s","type":"nominal","legend":null}}},
     {"transform":[{"aggregate":[{"op":"max","field":"v","as":"hi"}],"groupby":["s"]},{"lookup":"s","from":{"data":{"name":"fleshStats"},"key":"s","fields":["lab"]}}],
      "mark":{"type":"text","lineBreak":"\n","baseline":"bottom","dy":-21,"fontSize":11,"fontWeight":"bold","font":"Liberation Serif","lineHeight":13,"color":"black"},
      "encoding":{"x":{"field":"s","type":"nominal","title":"Flesh","sort":["Fructose","Glucose","Sorbitol","Sucrose"]},
       "y":{"field":"hi","type":"quantitative","title":"Soluble sugars content （mg/g）"},
       "text":{"field":"lab","type":"nominal"}}}
    ]}
  ]}
]
}
